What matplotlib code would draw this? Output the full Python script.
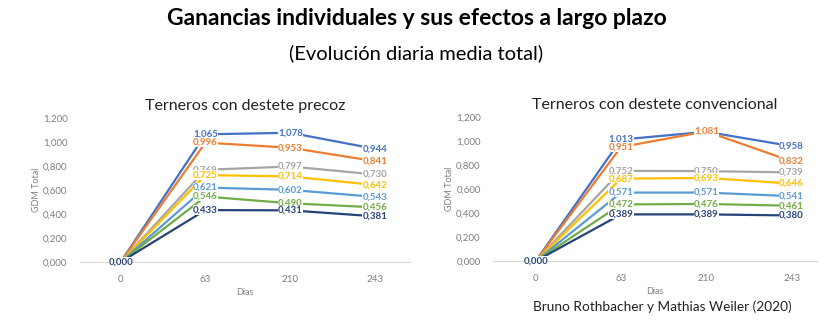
import matplotlib
matplotlib.use("Agg")
import matplotlib.pyplot as plt

plt.rcParams["font.family"] = ["Lato", "DejaVu Sans"]

dias = ["0", "63", "210", "243"]

series_colors = ["#4472C4", "#ED7D31", "#A5A5A5", "#FFC000", "#5B9BD5", "#70AD47", "#264478"]

# Terneros con destete precoz
precoz = [
    [0.0, 1.065, 1.078, 0.944],
    [0.0, 0.996, 0.953, 0.841],
    [0.0, 0.769, 0.797, 0.730],
    [0.0, 0.725, 0.714, 0.642],
    [0.0, 0.621, 0.602, 0.543],
    [0.0, 0.546, 0.490, 0.456],
    [0.0, 0.433, 0.431, 0.381],
]

# Terneros con destete convencional
convencional = [
    [0.0, 1.013, 1.078, 0.958],
    [0.0, 0.951, 1.081, 0.832],
    [0.0, 0.752, 0.750, 0.739],
    [0.0, 0.687, 0.693, 0.646],
    [0.0, 0.571, 0.571, 0.541],
    [0.0, 0.472, 0.476, 0.461],
    [0.0, 0.389, 0.389, 0.380],
]

y_ticks = [0.0, 0.2, 0.4, 0.6, 0.8, 1.0, 1.2]
TICK_GRAY = "#7f7f7f"


def fmt(v):
    return f"{v:.3f}".replace(".", ",")


def draw_panel(ax, data, title, xlim):
    x = list(range(len(dias)))
    for values, color in zip(data, series_colors):
        ax.plot(x, values, color=color, linewidth=1.6, zorder=2)
    for values, color in zip(data, series_colors):
        for xi, v in zip(x, values):
            ax.text(xi, v, fmt(v), color=color, fontsize=7, fontweight="bold",
                    ha="center", va="center", zorder=3,
                    bbox=dict(facecolor="white", edgecolor="none", pad=0.2))
    ax.set_xlim(*xlim)
    ax.set_ylim(0, 1.2)
    ax.set_xticks(x)
    ax.set_xticklabels(dias)
    ax.set_yticks(y_ticks)
    ax.set_yticklabels([fmt(t) for t in y_ticks])
    ax.tick_params(length=0, labelsize=7, colors=TICK_GRAY, pad=9)
    for side in ("top", "right", "left"):
        ax.spines[side].set_visible(False)
    ax.spines["bottom"].set_color("#d9d9d9")
    ax.set_xlabel("Dias", fontsize=6.5, color=TICK_GRAY, labelpad=3)
    ax.set_ylabel("GDM Total", fontsize=6.5, color=TICK_GRAY, labelpad=1)
    ax.set_title(title, fontsize=11.5, color="#222222", pad=6)


fig = plt.figure(figsize=(8.33, 3.3), dpi=100)
fig.text(0.5, 0.945, "Ganancias individuales y sus efectos a largo plazo",
         ha="center", va="center", fontsize=16.5, fontweight="bold")
fig.text(0.5, 0.84, "(Evolución diaria media total)", ha="center", va="center", fontsize=14.5)

ax1 = fig.add_axes([0.096, 0.206, 0.396, 0.436])
draw_panel(ax1, precoz, "Terneros con destete precoz", (-0.48, 3.41))

ax2 = fig.add_axes([0.592, 0.209, 0.389, 0.436])
draw_panel(ax2, convencional, "Terneros con destete convencional", (-0.5, 3.3))

fig.text(0.795, 0.07, "Bruno Rothbacher y Mathias Weiler (2020)", ha="center", va="center",
         fontsize=9.8, color="#222222")

fig.savefig("out.png", dpi=100)
